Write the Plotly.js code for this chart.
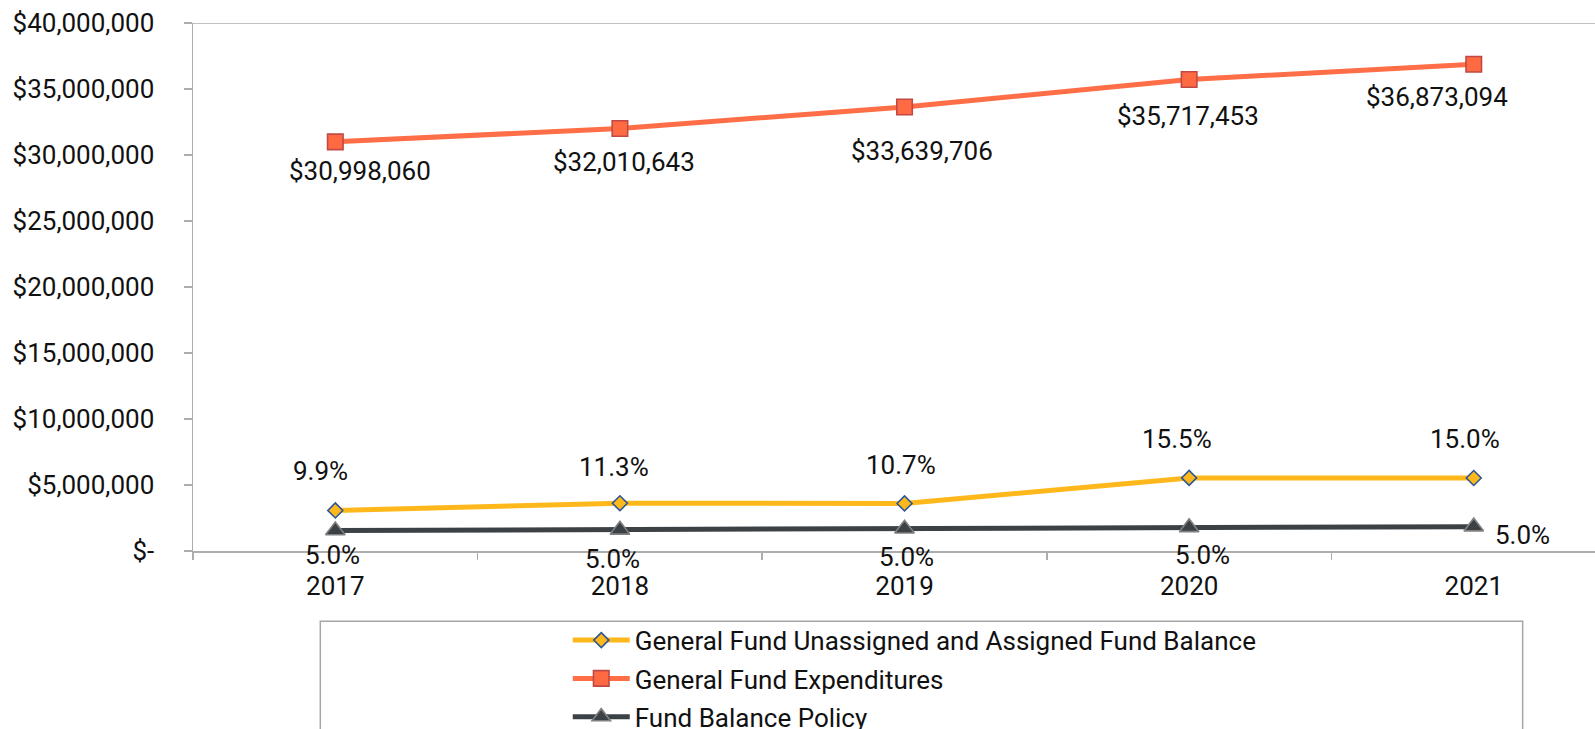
<!DOCTYPE html>
<html>
<head>
<meta charset="utf-8">
<script src="https://cdn.plot.ly/plotly-3.0.1.min.js"></script>
<style>
  html, body { margin: 0; padding: 0; background: #fff; }
  #chart { width: 1595px; height: 729px; }
</style>
</head>
<body>
<div id="chart"></div>
<script>
// ---- Data ----
const years = ['2017', '2018', '2019', '2020', '2021'];
const fundBalance = [3070000, 3617000, 3600000, 5536000, 5531000];
const expenditures = [30998060, 32010643, 33639706, 35717453, 36873094];
const policyBalance = [1550000, 1600000, 1682000, 1786000, 1844000];
const balancePctLabels = ['9.9%', '11.3%', '10.7%', '15.5%', '15.0%'];
const policyPctLabels = ['5.0%', '5.0%', '5.0%', '5.0%', '5.0%'];
const yTickVals = [0, 5000000, 10000000, 15000000, 20000000, 25000000, 30000000, 35000000, 40000000];
const yTickText = ['$-', '$5,000,000', '$10,000,000', '$15,000,000', '$20,000,000', '$25,000,000', '$30,000,000', '$35,000,000', '$40,000,000'];
const seriesNames = ['General Fund Unassigned and Assigned Fund Balance', 'General Fund Expenditures', 'Fund Balance Policy'];

// ---- Label placement (pixel offsets, style only) ----
const expOffX = [25, 4, 17, -1, -37];
const expOffY = [-29, -34, -44, -36, -33];
const balOffX = [-15, -6, -4, -12, -9];
const balOffY = [39, 36, 38, 39, 39];
const polOffX = [-3, -7, 2, 13, 49];
const polOffY = [-24, -29, -28, -28, -8];

const FONT = 'Roboto, "Noto Sans", Arial, sans-serif';
const FS = 26;
const TXT = '#111111';

const traces = [
  {
    x: years, y: fundBalance, name: seriesNames[0], type: 'scatter', mode: 'lines+markers',
    legendgroup: 'a',
    line: { color: '#FFB81C', width: 5 },
    marker: { symbol: 'diamond', size: 11.5, color: '#FFB81C', line: { color: '#2B5797', width: 1.6 } },
    hoverinfo: 'skip'
  },
  {
    x: years, y: expenditures, name: seriesNames[1], type: 'scatter', mode: 'lines+markers',
    legendgroup: 'b',
    line: { color: '#FF6E47', width: 5 },
    marker: { symbol: 'square', size: 15.5, color: '#FF6A42', line: { color: '#BF4A45', width: 1.6 } },
    hoverinfo: 'skip'
  },
  {
    x: years, y: policyBalance, name: seriesNames[2], type: 'scatter', mode: 'lines+markers',
    legendgroup: 'c',
    line: { color: '#3C4146', width: 5 },
    marker: { symbol: 'triangle-up', size: 17, color: '#3C4146', line: { color: '#808080', width: 1.6 } },
    hoverinfo: 'skip'
  }
];

const annotations = [];
years.forEach((yr, i) => {
  annotations.push({
    x: i, y: expenditures[i], xref: 'x', yref: 'y',
    text: '$' + expenditures[i].toLocaleString('en-US'),
    showarrow: false, xshift: expOffX[i], yshift: expOffY[i],
    font: { family: FONT, size: FS, color: TXT }
  });
  annotations.push({
    x: i, y: fundBalance[i], xref: 'x', yref: 'y',
    text: balancePctLabels[i],
    showarrow: false, xshift: balOffX[i], yshift: balOffY[i],
    font: { family: FONT, size: FS, color: TXT }
  });
  annotations.push({
    x: i, y: policyBalance[i], xref: 'x', yref: 'y',
    text: policyPctLabels[i],
    showarrow: false, xshift: polOffX[i], yshift: polOffY[i],
    font: { family: FONT, size: FS, color: TXT }
  });
});

const layout = {
  width: 1595, height: 729,
  margin: { l: 193, r: 0, t: 23, b: 178, autoexpand: false },
  paper_bgcolor: '#ffffff', plot_bgcolor: '#ffffff',
  font: { family: FONT, size: FS, color: TXT },
  showlegend: true,
  legend: {
    x: 0.2673, y: -0.1244, xanchor: 'left', yanchor: 'top',
    orientation: 'v', traceorder: 'grouped', tracegroupgap: 1.5,
    itemwidth: 57,
    bgcolor: 'rgba(0,0,0,0)', borderwidth: 0,
    font: { family: FONT, size: FS, color: TXT }
  },
  xaxis: {
    type: 'category', range: [-0.5, 4.426], fixedrange: true,
    showline: true, linecolor: '#ADADAD', linewidth: 1.5,
    ticks: 'outside', tickson: 'boundaries', ticklen: 7, tickcolor: '#ADADAD', tickwidth: 1.5,
    showgrid: false, zeroline: false,
    ticklabelstandoff: 11,
    tickfont: { family: FONT, size: FS, color: TXT }
  },
  yaxis: {
    range: [0, 40000000], fixedrange: true,
    tickmode: 'array', tickvals: yTickVals, ticktext: yTickText,
    showline: true, linecolor: '#ADADAD', linewidth: 1.5,
    ticks: 'outside', ticklen: 8, tickcolor: '#ADADAD', tickwidth: 1.5,
    showgrid: false, zeroline: false,
    ticklabelstandoff: 24,
    tickfont: { family: FONT, size: FS, color: TXT }
  },
  shapes: [
    { type: 'line', xref: 'paper', yref: 'y', x0: 0, x1: 1, y0: 40000000, y1: 40000000,
      line: { color: '#ADADAD', width: 1.5 }, layer: 'below' },
    { type: 'rect', xref: 'paper', yref: 'paper', x0: 0.0908, x1: 0.9484, y0: -0.1331, y1: -0.5,
      line: { color: '#A6A6A6', width: 1.5 }, fillcolor: 'rgba(0,0,0,0)', layer: 'below' }
  ],
  annotations: annotations
};

Plotly.newPlot('chart', traces, layout, { staticPlot: true, displayModeBar: false });
</script>
</body>
</html>
